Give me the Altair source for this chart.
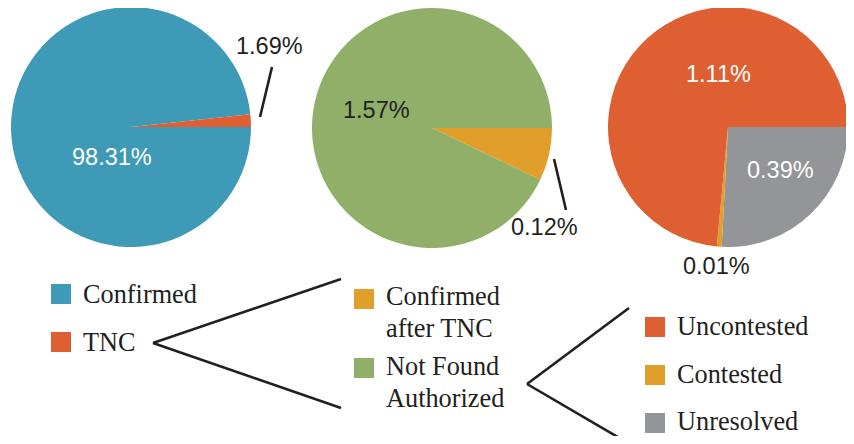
import math
import altair as alt
import pandas as pd

# ---------------- data ----------------
pie1_labels = ["Confirmed", "TNC"]
pie1_values = [98.31, 1.69]
pie2_labels = ["Confirmed after TNC", "Not Found Authorized"]
pie2_values = [0.12, 1.57]
pie3_labels = ["Unresolved", "Contested", "Uncontested"]
pie3_values = [0.39, 0.01, 1.11]

legend1 = ["Confirmed", "TNC"]
legend2 = [["Confirmed", "after TNC"], ["Not Found", "Authorized"]]
legend2_keys = ["Confirmed after TNC", "Not Found Authorized"]
legend3 = ["Uncontested", "Contested", "Unresolved"]

categories = ["Confirmed", "TNC", "Confirmed after TNC", "Not Found Authorized",
              "Uncontested", "Contested", "Unresolved"]
palette = ["#3E9AB6", "#DE5F31", "#E29E2A", "#90AF68", "#DE5F31", "#E29E2A", "#939598"]

# ---------------- layout (page pixels; 8px page margin) ----------------
OFF = 8
def px(v):
    return v - OFF

R = 120
centers = [(131, 127), (432, 128), (728, 127)]
DARK = "#231F20"
SANS = "Liberation Sans"
SERIF = "Liberation Serif"

color_scale = alt.Scale(domain=categories, range=palette)


def pie(labels, values, center):
    df = pd.DataFrame({"category": labels, "value": values, "ord": list(range(len(labels)))})
    return alt.Chart(df).mark_arc(radius=R, stroke=None).encode(
        theta=alt.Theta("value:Q", stack="normalize",
                        scale=alt.Scale(range=[math.pi / 2, math.pi / 2 + 2 * math.pi])),
        color=alt.Color("category:N", scale=color_scale, legend=None),
        order=alt.Order("ord:Q"),
        x=alt.value(px(center[0])),
        y=alt.value(px(center[1])),
    )


# pie value labels: (left x, baseline y, colour)
label_layout = {
    ("p1", 0): (72, 165, "white"),
    ("p1", 1): (236, 54, DARK),
    ("p2", 0): (511, 235, DARK),
    ("p2", 1): (343, 118, DARK),
    ("p3", 0): (747, 178, "white"),
    ("p3", 1): (683, 274, DARK),
    ("p3", 2): (686, 82, "white"),
}
rows = []
for key, vals in (("p1", pie1_values), ("p2", pie2_values), ("p3", pie3_values)):
    for i, v in enumerate(vals):
        x, y, c = label_layout[(key, i)]
        rows.append({"text": f"{v:.2f}%", "x": px(x), "y": px(y), "c": c})
labels_df = pd.DataFrame(rows)
pie_labels = alt.Chart(labels_df).mark_text(
    font=SANS, fontSize=23.5, align="left", baseline="alphabetic"
).encode(
    x=alt.X("x:Q", scale=None, axis=None),
    y=alt.Y("y:Q", scale=None, axis=None),
    text="text:N",
    color=alt.Color("c:N", scale=None),
)

# connector / leader lines
segments = [
    (272, 67, 260, 117),
    (554, 159, 566, 210),
    (153, 343, 341, 279),
    (153, 343, 341, 408),
    (527, 384, 629, 308),
    (527, 384, 628, 443),
]
seg_df = pd.DataFrame([{"x": px(a), "y": px(b), "x2": px(c), "y2": px(d)} for a, b, c, d in segments])
lines = alt.Chart(seg_df).mark_rule(color=DARK, strokeWidth=2.6).encode(
    x=alt.X("x:Q", scale=None, axis=None),
    y=alt.Y("y:Q", scale=None, axis=None),
    x2="x2:Q",
    y2="y2:Q",
)

# legend squares
sq_rows = []
for cat, (x, y) in zip(legend1, [(51, 284), (51, 332)]):
    sq_rows.append({"cat": cat, "x": px(x), "y": px(y)})
for cat, (x, y) in zip(legend2_keys, [(354, 289), (354, 358)]):
    sq_rows.append({"cat": cat, "x": px(x), "y": px(y)})
for cat, (x, y) in zip(legend3, [(645, 317), (645, 365), (645, 413)]):
    sq_rows.append({"cat": cat, "x": px(x), "y": px(y)})
sq_df = pd.DataFrame(sq_rows)
sq_df["x2"] = sq_df["x"] + 20
sq_df["y2"] = sq_df["y"] + 20
squares = alt.Chart(sq_df).mark_rect().encode(
    x=alt.X("x:Q", scale=None, axis=None),
    y=alt.Y("y:Q", scale=None, axis=None),
    x2="x2:Q",
    y2="y2:Q",
    color=alt.Color("cat:N", scale=color_scale, legend=None),
)

# legend texts
txt_rows = []
for t, y in zip(legend1, [303, 351]):
    txt_rows.append({"t": t, "x": px(83), "y": px(y)})
for lines2, ys in zip(legend2, [(305, 337), (375, 407)]):
    for t, y in zip(lines2, ys):
        txt_rows.append({"t": t, "x": px(386), "y": px(y)})
for t, y in zip(legend3, [335, 383, 430]):
    txt_rows.append({"t": t, "x": px(677), "y": px(y)})
txt_df = pd.DataFrame(txt_rows)
legend_text = alt.Chart(txt_df).mark_text(
    font=SERIF, fontSize=26.3, align="left", baseline="alphabetic", color=DARK
).encode(
    x=alt.X("x:Q", scale=None, axis=None),
    y=alt.Y("y:Q", scale=None, axis=None),
    text="t:N",
)

chart = alt.layer(
    pie(pie1_labels, pie1_values, centers[0]),
    pie(pie2_labels, pie2_values, centers[1]),
    pie(pie3_labels, pie3_values, centers[2]),
    lines,
    pie_labels,
    squares,
    legend_text,
).properties(
    width=838, height=428, padding=0, autosize=alt.AutoSizeParams(type="none")
).configure_view(stroke=None)

chart.save("out.html", embed_options={"renderer": "svg", "actions": False})
